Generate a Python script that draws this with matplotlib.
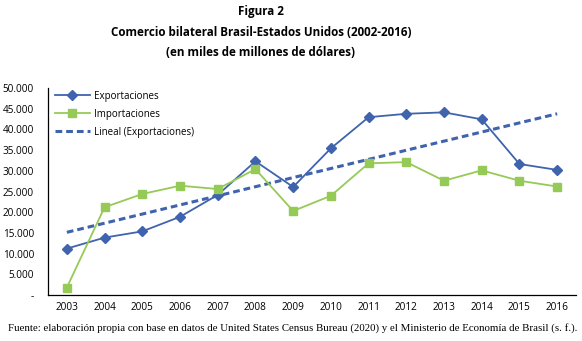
import numpy as np
import matplotlib
matplotlib.use("Agg")
import matplotlib.pyplot as plt
from matplotlib.ticker import FuncFormatter

years = ["2003", "2004", "2005", "2006", "2007", "2008", "2009", "2010",
         "2011", "2012", "2013", "2014", "2015", "2016"]
exportaciones = [11211, 13863, 15372, 18887, 24172, 32299, 26095, 35418,
                 42944, 43771, 44118, 42429, 31643, 30214]
importaciones = [1800, 21200, 24400, 26400, 25600, 30400, 20300, 23960,
                 31800, 32100, 27600, 30100, 27600, 26200]

BLUE = "#3F63AD"
GREEN = "#96CA56"

fig = plt.figure(figsize=(5.82, 3.41), dpi=100)
ax = fig.add_axes([48 / 582, 1 - 295 / 341, (576 - 48) / 582, (295 - 88) / 341])

x = np.arange(len(years))
ax.plot(x, exportaciones, color=BLUE, lw=1.3, marker="D", ms=5.5,
        label="Exportaciones", zorder=3)
ax.plot(x, importaciones, color=GREEN, lw=1.3, marker="s", ms=6,
        label="Importaciones", zorder=3)

# least-squares trend of the exports series
coef = np.polyfit(x, exportaciones, 1)
ax.plot(x, np.polyval(coef, x), color=BLUE, lw=2.2, ls=(0, (2.2, 1.3)),
        label="Lineal (Exportaciones)", zorder=2)

ax.set_xlim(-0.5, len(years) - 0.5)
ax.set_ylim(0, 50000)
ax.set_yticks(np.arange(0, 50001, 5000))
ax.yaxis.set_major_formatter(FuncFormatter(
    lambda v, p: "-" if v == 0 else f"{int(v):,}".replace(",", ".")))
ax.set_xticks(x)
ax.set_xticklabels(years)

for lab in ax.get_xticklabels() + ax.get_yticklabels():
    lab.set_fontfamily("Open Sans")
    lab.set_fontsize(7.2)

ax.spines["top"].set_visible(False)
ax.spines["right"].set_visible(False)
ax.spines["left"].set_linewidth(0.9)
ax.spines["bottom"].set_linewidth(0.9)
ax.tick_params(axis="x", length=0, pad=5)
ax.tick_params(axis="y", length=0, pad=10)

leg = ax.legend(loc="upper left", bbox_to_anchor=(0.0, 1.02), frameon=False,
                prop=dict(family="Open Sans", size=7), handlelength=3.6,
                handletextpad=0.4, labelspacing=0.72, borderaxespad=0.3)

title_kw = dict(ha="center", va="center", family="Open Sans", weight="bold", size=8.4)
tx = 261 / 582
fig.text(tx, 1 - 12 / 341, "Figura 2", **title_kw)
fig.text(tx, 1 - 33 / 341, "Comercio bilateral Brasil-Estados Unidos (2002-2016)", **title_kw)
fig.text(tx, 1 - 53 / 341, "(en miles de millones de dólares)", **title_kw)

fig.text(8 / 582, 1 - 328 / 341,
         "Fuente: elaboración propia con base en datos de United States Census Bureau (2020) "
         "y el Ministerio de Economía de Brasil (s. f.).",
         ha="left", va="center", family="Liberation Serif", size=7.8)

fig.savefig("out.png", dpi=100)
